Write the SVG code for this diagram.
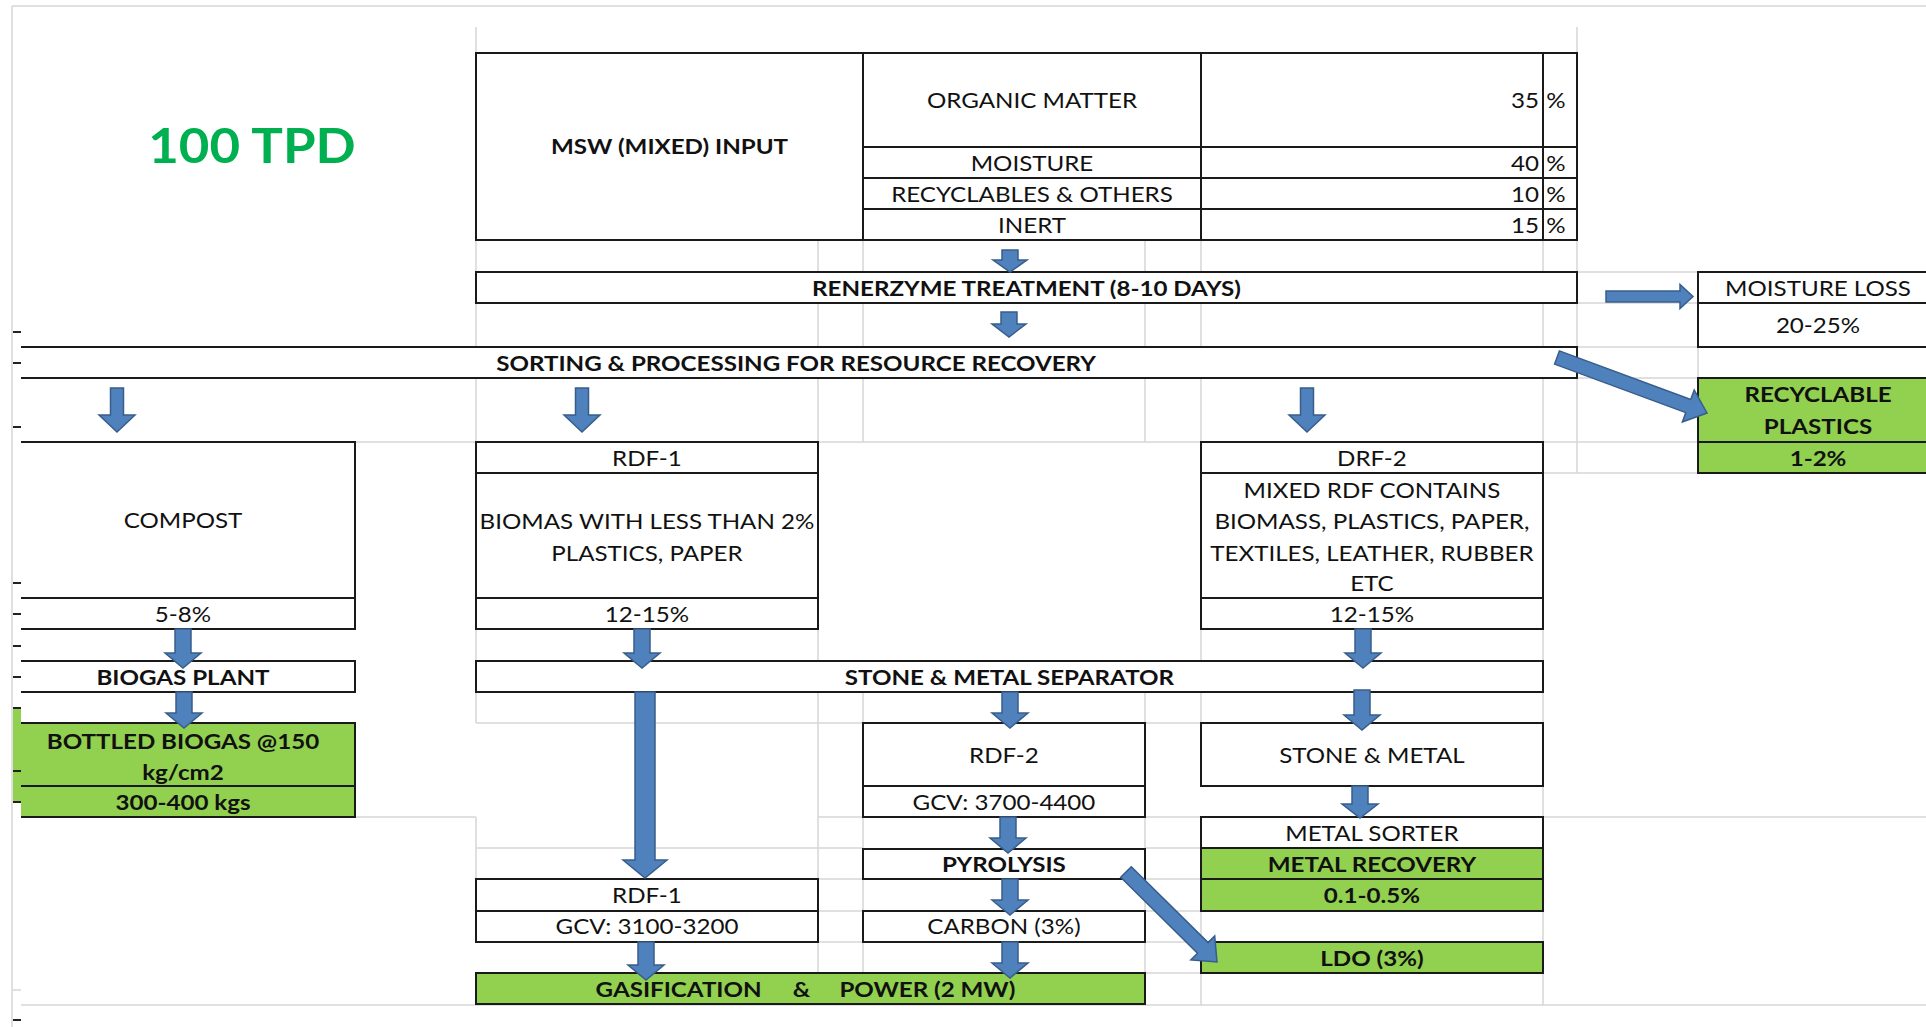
<svg xmlns="http://www.w3.org/2000/svg" width="1926" height="1027" viewBox="0 0 1926 1027">
<style>
.grid{stroke:#d6d6d6;stroke-width:1.5;fill:none}
.bx{fill:#ffffff;stroke:#1a1a1a;stroke-width:2}
.gr{fill:#92d050;stroke:#1a1a1a;stroke-width:2}
.ln{stroke:#1a1a1a;stroke-width:2;fill:none}
.t{font-family:Lato,"Liberation Sans",Arial,sans-serif;font-size:21px;fill:#111;text-anchor:middle}
.b{font-weight:bold}
.e{text-anchor:end}
.arr{fill:#4f81bd;stroke:#385d8a;stroke-width:1.5;stroke-linejoin:miter}
.tick{stroke:#222;stroke-width:2}
</style>
<rect x="0" y="0" width="1926" height="1027" fill="#ffffff"/>
<g id="grid" class="grid">
<path d="M12,6H1926M12,6V1027"/>
<path d="M476,27V53M476,240V272M476,303V347M476,378V442M476,629V661M476,692V723M476,817V879"/>
<path d="M1577,27V53M1577,240V272M1577,303V347M1577,378V473"/>
<path d="M818,240V272M818,303V347M818,378V442M818,629V661M818,692V879M818,942V973"/>
<path d="M863,240V272M863,303V347M863,378V442M863,692V723M863,817V849M863,879V911M863,942V973"/>
<path d="M1145,240V272M1145,303V347M1145,378V442M1145,692V723M1145,817V849M1145,879V911M1145,942V973"/>
<path d="M1201,240V272M1201,303V347M1201,378V442M1201,629V661M1201,692V723M1201,911V942M1201,973V1005"/>
<path d="M1543,240V272M1543,303V347M1543,378V442M1543,629V661M1543,692V723M1543,786V817M1543,911V942M1543,973V1005"/>
<path d="M1698,347V378"/>
<path d="M1577,272H1698M1577,303H1698M1577,347H1698M1577,378H1698M355,442H476M818,442H1201M1543,442H1698M1543,473H1698"/>
<path d="M476,723H863M1145,723H1201M355,817H476M818,817H863M1145,817H1201M1543,817H1926"/>
<path d="M476,848H863M1145,848H1201M818,879H863M1145,879H1201M818,911H863M1145,911H1201M818,942H863M1145,942H1201M1145,973H1201"/>
<path d="M21,1005H1926M12,990H21"/>
</g>
<g id="margin">
<rect x="13" y="708" width="8" height="94" fill="#92d050"/>
<path class="tick" d="M13,332H21M13,363H21M13,427H21M13,583H21M13,614H21M13,646H21M13,677H21M13,708H21M13,771H21M13,802H21M13,1020H21"/>
</g>
<g id="title">
<text class="t b" x="229.1" y="163" transform="scale(1.1 1)" style="font-size:48px;fill:#00b050">100 TPD</text>
</g>
<g id="msw-input">
<rect class="bx" x="476" y="53" width="1101" height="187"/>
<path class="ln" d="M863,53V240M1201,53V240M1543,53V240M863,147H1577M863,178H1577M863,209H1577"/>
<text class="t b" x="582.2" y="154.5" transform="scale(1.15 1)">MSW (MIXED) INPUT</text>
<text class="t" x="897.4" y="108.5" transform="scale(1.15 1)">ORGANIC MATTER</text>
<text class="t" x="897.4" y="171.5" transform="scale(1.15 1)">MOISTURE</text>
<text class="t" x="897.4" y="202.5" transform="scale(1.15 1)">RECYCLABLES &amp; OTHERS</text>
<text class="t" x="897.4" y="233.5" transform="scale(1.15 1)">INERT</text>
<text class="t e" x="1338.3" y="108.5" transform="scale(1.15 1)">35</text>
<text class="t e" x="1338.3" y="171.5" transform="scale(1.15 1)">40</text>
<text class="t e" x="1338.3" y="202.5" transform="scale(1.15 1)">10</text>
<text class="t e" x="1338.3" y="233.5" transform="scale(1.15 1)">15</text>
<text class="t" x="1353" y="108.5" transform="scale(1.15 1)">%</text>
<text class="t" x="1353" y="171.5" transform="scale(1.15 1)">%</text>
<text class="t" x="1353" y="202.5" transform="scale(1.15 1)">%</text>
<text class="t" x="1353" y="233.5" transform="scale(1.15 1)">%</text>
</g>
<g id="renerzyme">
<rect class="bx" x="476" y="272" width="1101" height="31"/>
<text class="t b" x="892.6" y="296.5" transform="scale(1.15 1)">RENERZYME TREATMENT (8-10 DAYS)</text>
</g>
<g id="moisture-loss">
<rect class="bx" x="1698" y="272" width="250" height="75"/>
<path class="ln" d="M1698,303H1926"/>
<text class="t" x="1580.9" y="296.5" transform="scale(1.15 1)">MOISTURE LOSS</text>
<text class="t" x="1580.9" y="333.5" transform="scale(1.15 1)">20-25%</text>
</g>
<g id="sorting">
<rect x="21" y="347" width="1556" height="31" fill="#fff"/>
<path class="ln" d="M21,347H1577V378H21"/>
<text class="t b" x="692.2" y="371.5" transform="scale(1.15 1)">SORTING &amp; PROCESSING FOR RESOURCE RECOVERY</text>
</g>
<g id="recyclable-plastics">
<rect class="gr" x="1698" y="378" width="250" height="95"/>
<path class="ln" d="M1698,442H1926"/>
<text class="t b" x="1580.9" y="402.5" transform="scale(1.15 1)">RECYCLABLE</text>
<text class="t b" x="1580.9" y="434.5" transform="scale(1.15 1)">PLASTICS</text>
<text class="t b" x="1580.9" y="466.5" transform="scale(1.15 1)">1-2%</text>
</g>
<g id="compost">
<rect x="21" y="442" width="334" height="187" fill="#fff"/>
<path class="ln" d="M21,442H355V629H21M21,598H355"/>
<text class="t" x="159.1" y="528.5" transform="scale(1.15 1)">COMPOST</text>
<text class="t" x="159.1" y="622.5" transform="scale(1.15 1)">5-8%</text>
</g>
<g id="rdf1">
<rect class="bx" x="476" y="442" width="342" height="187"/>
<path class="ln" d="M476,473H818M476,598H818"/>
<text class="t" x="562.6" y="466.5" transform="scale(1.15 1)">RDF-1</text>
<text class="t" x="562.6" y="529.5" transform="scale(1.15 1)">BIOMAS WITH LESS THAN 2%</text>
<text class="t" x="562.6" y="561.5" transform="scale(1.15 1)">PLASTICS, PAPER</text>
<text class="t" x="562.6" y="622.5" transform="scale(1.15 1)">12-15%</text>
</g>
<g id="drf2">
<rect class="bx" x="1201" y="442" width="342" height="187"/>
<path class="ln" d="M1201,473H1543M1201,598H1543"/>
<text class="t" x="1193" y="466.5" transform="scale(1.15 1)">DRF-2</text>
<text class="t" x="1193" y="498.5" transform="scale(1.15 1)">MIXED RDF CONTAINS</text>
<text class="t" x="1193" y="529.5" transform="scale(1.15 1)">BIOMASS, PLASTICS, PAPER,</text>
<text class="t" x="1193" y="561.5" transform="scale(1.15 1)">TEXTILES, LEATHER, RUBBER</text>
<text class="t" x="1193" y="591.5" transform="scale(1.15 1)">ETC</text>
<text class="t" x="1193" y="622.5" transform="scale(1.15 1)">12-15%</text>
</g>
<g id="biogas-plant">
<rect x="21" y="661" width="334" height="31" fill="#fff"/>
<path class="ln" d="M21,661H355V692H21"/>
<text class="t b" x="159.1" y="685.5" transform="scale(1.15 1)">BIOGAS PLANT</text>
</g>
<g id="bottled-biogas">
<rect x="21" y="723" width="334" height="94" fill="#92d050"/>
<path class="ln" d="M21,723H355V817H21M21,786H355"/>
<text class="t b" x="159.1" y="749.5" transform="scale(1.15 1)">BOTTLED BIOGAS @150</text>
<text class="t b" x="159.1" y="780.5" transform="scale(1.15 1)">kg/cm2</text>
<text class="t b" x="159.1" y="810.5" transform="scale(1.15 1)">300-400 kgs</text>
</g>
<g id="separator">
<rect class="bx" x="476" y="661" width="1067" height="31"/>
<text class="t b" x="877.8" y="685.5" transform="scale(1.15 1)">STONE &amp; METAL SEPARATOR</text>
</g>
<g id="rdf2">
<rect class="bx" x="863" y="723" width="282" height="94"/>
<path class="ln" d="M863,786H1145"/>
<text class="t" x="873" y="763.5" transform="scale(1.15 1)">RDF-2</text>
<text class="t" x="873" y="810.5" transform="scale(1.15 1)">GCV: 3700-4400</text>
</g>
<g id="stone-metal">
<rect class="bx" x="1201" y="723" width="342" height="63"/>
<text class="t" x="1193" y="763.5" transform="scale(1.15 1)">STONE &amp; METAL</text>
</g>
<g id="metal-sorter">
<rect class="bx" x="1201" y="817" width="342" height="31"/>
<rect class="gr" x="1201" y="848" width="342" height="63"/>
<path class="ln" d="M1201,879H1543"/>
<text class="t" x="1193" y="841.5" transform="scale(1.15 1)">METAL SORTER</text>
<text class="t b" x="1193" y="872.5" transform="scale(1.15 1)">METAL RECOVERY</text>
<text class="t b" x="1193" y="903.5" transform="scale(1.15 1)">0.1-0.5%</text>
</g>
<g id="pyrolysis">
<rect class="bx" x="863" y="849" width="282" height="30"/>
<text class="t b" x="873" y="872.5" transform="scale(1.15 1)">PYROLYSIS</text>
</g>
<g id="rdf1-gcv">
<rect class="bx" x="476" y="879" width="342" height="63"/>
<path class="ln" d="M476,911H818"/>
<text class="t" x="562.6" y="903.5" transform="scale(1.15 1)">RDF-1</text>
<text class="t" x="562.6" y="934.5" transform="scale(1.15 1)">GCV: 3100-3200</text>
</g>
<g id="carbon">
<rect class="bx" x="863" y="911" width="282" height="31"/>
<text class="t" x="873" y="934.5" transform="scale(1.15 1)">CARBON (3%)</text>
</g>
<g id="ldo">
<rect class="gr" x="1201" y="942" width="342" height="31"/>
<text class="t b" x="1193" y="966.5" transform="scale(1.15 1)">LDO (3%)</text>
</g>
<g id="gasification">
<rect class="gr" x="476" y="973" width="669" height="31"/>
<text class="t b" y="997.5" transform="scale(1.15 1)"><tspan x="590.1">GASIFICATION</tspan><tspan x="697"> &amp; </tspan><tspan x="806.4">POWER (2 MW)</tspan></text>
</g>
<g id="connectors" class="arr">
<path d="M1002,250H1018V260H1027L1010,272L993,260H1002Z"/>
<path d="M1001,312H1017V324H1026L1009,337L992,324H1001Z"/>
<path d="M1606,291H1680V284.5L1693,296.5L1680,308.5V302H1606Z"/>
<path d="M110.5,388H123.5V415H135L117,432L99,415H110.5Z"/>
<path d="M575.5,388H588.5V415H600L582,432L564,415H575.5Z"/>
<path d="M1300.5,388H1313.5V415H1325L1307,432L1289,415H1300.5Z"/>
<path d="M1559.4,350.9L1690.7,399.5L1694.2,390.1L1707,413L1682.4,422L1685.8,412.6L1554.6,364.1Z"/>
<path d="M175,629H191V653H201L183,668L165,653H175Z"/>
<path d="M634,629H650V653H660L642,668L624,653H634Z"/>
<path d="M1355,629H1371V653H1381L1363,668L1345,653H1355Z"/>
<path d="M176,692H192V713H202L184,728L166,713H176Z"/>
<path d="M635,692H655V860H667L645,878L623,860H635Z"/>
<path d="M638,942H654V965H664L646,980L628,965H638Z"/>
<path d="M1002,692H1018V713H1028L1010,728L992,713H1002Z"/>
<path d="M1354,690H1370V715H1380L1362,730L1344,715H1354Z"/>
<path d="M1000,817H1016V838H1026L1008,853L990,838H1000Z"/>
<path d="M1352,786H1368V804H1378L1360,818L1342,804H1352Z"/>
<path d="M1002,879H1018V900H1028L1010,915L992,900H1002Z"/>
<path d="M1002,942H1018V963H1028L1010,978L992,963H1002Z"/>
<path d="M1131.3,866.7L1208.1,942.6L1214.7,935.9L1217,962L1190.8,960L1197.5,953.3L1120.7,877.3Z"/>
</g>
</svg>
